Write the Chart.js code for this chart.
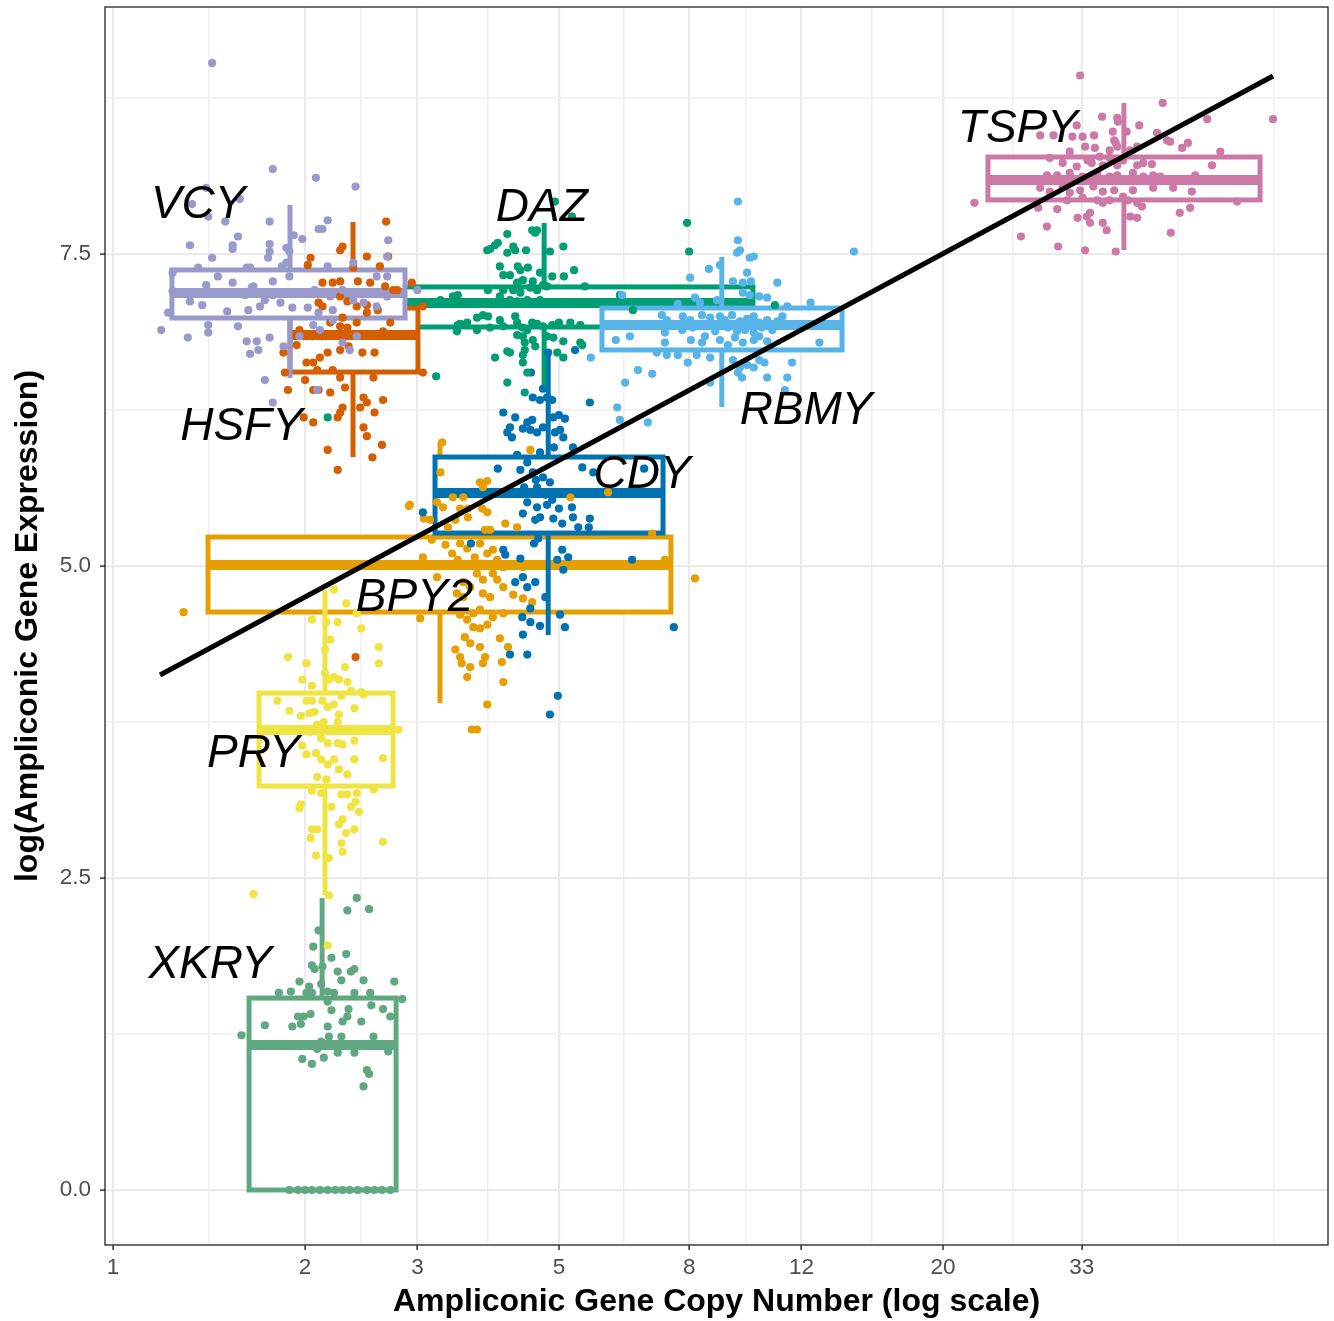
<!DOCTYPE html>
<html><head><meta charset="utf-8">
<script src="https://cdn.jsdelivr.net/npm/chart.js@4/dist/chart.umd.min.js"></script>
<style>html,body{margin:0;padding:0;background:#fff}canvas{display:block}</style>
</head><body>
<canvas id="c" width="1334" height="1321"></canvas>
<script>
// ---------- data ----------
const genes = ['BPY2','CDY','DAZ','HSFY','PRY','RBMY','TSPY','VCY','XKRY'];
const geneColors = ['#E69F00','#0072B2','#009E73','#D55E00','#F0E442','#56B4E9','#CC79A7','#9999CC','#60A882'];

// box statistics (copy number on x, log expression on y)
const boxCopyLow      = [1.409, 3.197, 2.228, 1.894, 1.694, 5.84, 23.52, 1.237, 1.634];
const boxCopyHigh     = [7.49, 7.28, 10.07, 3.006, 2.748, 13.89, 62.8, 2.869, 2.778];
const medianCopy      = [3.255, 4.81, 4.74, 2.378, 2.149, 9.0, 38.42, 1.894, 2.127];
const exprQ1          = [4.631, 5.264, 6.915, 6.554, 3.237, 6.731, 7.933, 6.987, 0];
const exprMedian      = [5.008, 5.585, 7.107, 6.851, 3.686, 6.931, 8.093, 7.188, 1.162];
const exprQ3          = [5.232, 5.873, 7.236, 7.067, 3.982, 7.067, 8.277, 7.372, 1.538];
const exprWhiskerLow  = [3.902, 4.447, 6.394, 5.873, 2.364, 6.274, 7.532, 6.506, 0];
const exprWhiskerHigh = [5.994, 6.715, 7.748, 7.756, 4.808, 7.476, 8.71, 7.893, 2.34];

// gene label anchor points
const labelCopy = [2.97, 6.75, 4.70, 1.59, 1.66, 12.2, 26.2, 1.36, 1.42];
const labelExpr = [4.74, 5.73, 7.87, 6.11, 3.49, 6.24, 8.50, 7.89, 1.80];

// regression line
const fitCopy = [1.185, 65.8];
const fitExpr = [4.127, 8.926];

// ticks
const xTickValues = [1, 2, 3, 5, 8, 12, 20, 33];
const yTickValues = [0, 2.5, 5, 7.5];

// jittered samples [copy number, log expression]
const pointsBPY2 = [[3.28,5.99],[4.51,5.93],[3.26,5.75],[3.76,5.67],[3.86,5.68],[3.80,5.63],[2.92,5.49],[3.22,5.51],[3.29,5.47],[3.41,5.55],[3.54,5.55],[3.50,5.46],[3.60,5.46],[3.79,5.46],[3.86,5.43],[3.14,5.37],[3.35,5.31],[3.60,5.39],[3.83,5.29],[4.12,5.34],[4.30,5.31],[5.21,5.55],[5.97,5.59],[3.16,5.21],[3.50,5.18],[3.59,5.14],[3.76,5.18],[3.86,5.10],[3.94,5.13],[3.40,5.10],[3.47,5.05],[3.69,5.07],[3.76,5.02],[4.00,5.05],[4.09,4.99],[3.06,5.07],[4.27,5.01],[4.39,4.99],[3.22,4.91],[3.72,4.94],[3.80,4.89],[3.94,4.94],[4.00,4.89],[4.09,4.83],[3.54,4.87],[3.63,4.83],[3.46,4.78],[3.54,4.75],[3.80,4.78],[3.90,4.75],[4.24,4.77],[4.39,4.74],[4.54,4.71],[3.03,4.58],[3.50,4.61],[3.59,4.57],[3.67,4.62],[3.76,4.65],[3.94,4.59],[4.09,4.62],[3.67,4.51],[3.76,4.50],[3.86,4.53],[3.56,4.43],[3.63,4.38],[3.44,4.33],[3.50,4.27],[3.76,4.35],[3.83,4.27],[4.04,4.42],[4.16,4.35],[3.52,4.22],[3.63,4.19],[3.80,4.22],[4.07,4.23],[3.59,4.11],[4.09,4.07],[3.86,3.89],[8.17,4.90],[7.00,5.26],[7.33,5.05],[1.29,4.63],[3.65,3.69],[3.72,3.69],[2.91,5.48],[3.07,5.38],[3.32,5.17],[3.90,5.29],[3.44,5.37]];
const pointsCDY = [[5.30,6.73],[4.52,6.55],[5.59,6.31],[4.72,6.42],[4.55,6.35],[4.67,6.33],[4.79,6.35],[4.88,6.33],[4.09,6.23],[4.27,6.19],[4.46,6.15],[4.54,6.17],[4.62,6.07],[4.72,6.11],[4.90,6.19],[5.00,6.21],[5.11,6.18],[4.19,6.11],[4.39,6.10],[4.93,6.07],[4.51,6.09],[5.02,6.09],[5.08,6.03],[4.15,6.07],[4.22,6.03],[4.30,5.89],[4.67,5.91],[4.91,5.95],[5.26,5.95],[4.01,5.78],[4.35,5.77],[4.46,5.83],[4.55,5.75],[4.60,5.69],[4.72,5.71],[4.84,5.67],[4.41,5.63],[4.51,5.59],[4.62,5.63],[4.76,5.57],[4.46,5.51],[4.62,5.47],[4.79,5.49],[4.88,5.53],[5.00,5.46],[5.24,5.47],[4.39,5.42],[4.59,5.37],[4.67,5.39],[4.90,5.38],[5.06,5.34],[5.26,5.39],[5.36,5.31],[5.59,5.38],[5.57,5.31],[5.44,5.79],[5.66,5.75],[6.80,5.78],[3.06,5.43],[3.64,5.18],[4.09,5.13],[4.12,5.09],[4.57,5.18],[4.64,5.22],[5.06,5.13],[5.17,5.07],[4.35,5.06],[4.97,5.05],[5.08,4.97],[4.27,4.87],[4.39,4.91],[4.59,4.87],[4.46,4.83],[4.76,4.75],[5.02,4.61],[4.38,4.59],[4.51,4.55],[4.67,4.52],[5.11,4.51],[4.39,4.45],[4.19,4.29],[4.46,4.29],[4.98,3.96],[4.84,3.81],[6.51,5.05],[7.57,4.51],[4.51,4.66],[4.81,6.71]];
const pointsDAZ = [[4.93,7.92],[5.24,7.80],[4.54,7.69],[4.59,7.67],[4.62,7.69],[4.15,7.66],[4.01,7.59],[3.90,7.54],[4.24,7.56],[4.27,7.53],[4.15,7.51],[4.44,7.53],[5.08,7.56],[4.84,7.52],[4.04,7.40],[4.31,7.40],[4.35,7.37],[4.47,7.39],[4.19,7.33],[4.09,7.33],[4.67,7.35],[4.88,7.32],[5.28,7.37],[5.09,7.32],[4.30,7.27],[4.39,7.29],[4.55,7.28],[4.09,7.21],[4.24,7.21],[4.35,7.19],[4.51,7.23],[4.62,7.21],[4.72,7.25],[4.79,7.24],[5.49,7.24],[3.41,7.16],[3.47,7.17],[3.87,7.21],[4.04,7.16],[4.19,7.13],[4.30,7.12],[4.46,7.13],[4.55,7.11],[4.67,7.13],[6.23,7.17],[6.53,7.05],[3.50,6.94],[3.46,6.88],[3.72,6.99],[3.87,7.00],[3.72,6.89],[3.90,6.91],[4.04,6.97],[4.09,6.92],[4.27,7.00],[4.30,6.95],[4.38,6.91],[4.46,6.89],[4.54,6.95],[4.62,6.94],[4.72,6.92],[4.88,6.93],[5.00,6.95],[5.21,6.95],[5.40,6.93],[4.30,6.85],[4.39,6.84],[4.55,6.81],[4.79,6.84],[4.90,6.83],[5.08,6.80],[5.44,6.77],[4.42,6.79],[4.42,6.73],[4.39,6.69],[4.59,6.76],[4.15,6.72],[4.19,6.71],[3.97,6.67],[4.97,6.71],[5.08,6.67],[4.39,6.63],[4.46,6.55],[4.15,6.47],[4.42,6.39],[3.21,6.52],[7.94,7.75],[8.00,7.52],[10.9,7.09],[2.17,6.19],[3.80,7.01],[3.47,6.93],[3.59,6.95],[5.40,6.79],[3.86,7.53],[3.97,7.57],[3.14,7.11],[3.26,7.13]];
const pointsHSFY = [[2.68,7.76],[2.70,7.48],[2.50,7.48],[2.29,7.56],[2.27,7.53],[2.04,7.47],[2.02,7.41],[2.62,7.40],[2.75,7.21],[2.38,7.39],[2.21,7.27],[2.27,7.28],[2.13,7.27],[2.42,7.28],[2.53,7.27],[2.67,7.24],[2.79,7.21],[2.94,7.27],[2.10,7.11],[2.13,7.08],[2.27,7.16],[2.33,7.12],[2.41,7.08],[2.50,7.09],[2.60,7.05],[2.50,7.03],[2.72,6.95],[2.29,6.99],[2.19,6.95],[2.27,6.92],[2.33,6.91],[1.96,6.89],[2.05,6.84],[2.13,6.84],[2.41,6.95],[2.65,6.88],[1.85,6.71],[1.94,6.77],[2.01,6.63],[2.06,6.63],[2.11,6.67],[2.17,6.71],[2.27,6.73],[2.34,6.76],[2.46,6.71],[2.57,6.71],[3.06,6.55],[1.86,6.55],[2.09,6.57],[2.21,6.57],[2.27,6.51],[1.88,6.41],[2.00,6.49],[2.06,6.41],[2.10,6.41],[2.19,6.39],[2.31,6.43],[2.47,6.35],[2.56,6.51],[2.50,6.31],[2.44,6.27],[2.65,6.33],[2.57,6.23],[1.99,6.19],[2.06,6.15],[2.27,6.23],[2.25,6.19],[2.29,6.27],[2.47,6.11],[2.50,6.04],[2.17,5.93],[2.25,5.77],[2.55,5.87],[2.64,5.97],[3.06,7.08],[2.40,4.27]];
const pointsPRY = [[2.22,4.81],[2.32,4.70],[2.05,4.57],[2.16,4.55],[2.41,4.62],[2.45,4.50],[2.25,4.55],[2.19,4.41],[2.61,4.35],[1.88,4.27],[2.01,4.22],[2.31,4.19],[2.61,4.22],[2.15,4.33],[2.15,4.14],[2.18,4.09],[1.98,4.09],[2.26,4.09],[2.45,3.99],[2.47,3.97],[2.80,3.69],[2.05,4.04],[2.22,4.11],[2.33,4.07],[1.81,3.92],[1.89,3.84],[2.01,3.92],[2.05,3.92],[1.97,3.80],[2.03,3.82],[2.07,3.83],[2.13,3.92],[2.17,3.87],[2.22,3.89],[2.28,3.96],[2.36,4.00],[2.39,3.86],[2.26,3.81],[2.25,3.75],[2.09,3.73],[2.14,3.75],[2.20,3.69],[2.01,3.69],[2.04,3.67],[2.12,3.62],[2.17,3.58],[2.25,3.58],[2.29,3.57],[2.39,3.60],[1.98,3.56],[2.01,3.49],[2.08,3.50],[2.12,3.45],[2.17,3.41],[2.22,3.45],[2.39,3.45],[2.65,3.46],[2.26,3.37],[2.33,3.33],[2.09,3.31],[2.16,3.29],[2.05,3.20],[2.12,3.18],[2.28,3.17],[2.33,3.17],[2.41,3.18],[2.56,3.21],[1.97,3.09],[1.96,3.06],[2.20,3.07],[2.36,3.07],[2.40,3.11],[2.43,3.03],[2.29,2.97],[2.26,2.93],[2.05,2.89],[2.09,2.89],[2.04,2.82],[2.32,2.86],[2.39,2.89],[2.28,2.78],[2.29,2.71],[2.65,2.79],[2.08,2.68],[2.18,2.66],[2.18,2.36],[1.66,2.37],[2.17,1.96]];
const pointsRBMY = [[9.54,7.92],[9.54,7.61],[9.61,7.53],[9.51,7.51],[9.96,7.47],[10.1,7.48],[8.94,7.41],[8.59,7.38],[9.86,7.35],[8.03,7.31],[9.37,7.28],[9.71,7.27],[10.0,7.28],[11.0,7.27],[14.5,7.52],[6.28,7.17],[8.17,7.15],[8.32,7.11],[7.68,7.10],[8.85,7.13],[9.71,7.19],[9.96,7.17],[10.3,7.16],[10.6,7.15],[11.4,7.08],[12.4,7.11],[7.25,7.01],[7.38,6.97],[7.82,7.00],[8.03,6.97],[8.38,7.01],[8.63,6.99],[8.94,7.00],[9.10,6.97],[9.34,7.01],[9.61,6.96],[9.86,6.98],[10.1,7.00],[10.3,6.95],[10.6,6.97],[11.0,6.96],[11.2,7.00],[7.80,6.89],[8.10,6.91],[8.53,6.92],[8.79,6.88],[9.20,6.91],[9.51,6.88],[9.79,6.89],[10.1,6.87],[10.4,6.91],[10.8,6.89],[6.14,6.81],[6.46,6.84],[7.33,6.87],[7.33,6.79],[8.05,6.81],[8.38,6.79],[8.47,6.84],[8.94,6.81],[9.20,6.77],[9.44,6.83],[9.71,6.79],[10.1,6.81],[10.3,6.84],[10.6,6.80],[12.8,6.79],[5.61,6.67],[7.12,6.71],[7.38,6.69],[7.68,6.69],[7.96,6.63],[8.22,6.69],[8.63,6.67],[9.37,6.65],[9.61,6.59],[9.86,6.61],[10.1,6.59],[10.3,6.65],[10.5,6.63],[11.6,6.63],[6.65,6.57],[7.00,6.54],[9.54,6.55],[9.68,6.51],[10.6,6.51],[11.4,6.51],[6.35,6.47],[8.63,6.47],[11.3,6.41],[6.17,6.27],[6.23,6.17],[6.89,6.15]];
const pointsTSPY = [[32.8,8.93],[44.2,8.71],[65.8,8.58],[51.9,8.58],[35.5,8.60],[37.5,8.59],[37.6,8.56],[40.6,8.53],[32.4,8.53],[28.4,8.45],[29.8,8.45],[31.9,8.44],[33.1,8.44],[34.5,8.45],[36.9,8.48],[37.1,8.41],[37.3,8.39],[38.8,8.48],[43.3,8.47],[44.9,8.41],[45.4,8.40],[48.4,8.39],[47.4,8.35],[54.4,8.32],[31.6,8.32],[33.4,8.36],[34.6,8.35],[36.5,8.33],[37.5,8.36],[39.3,8.33],[40.3,8.36],[29.4,8.27],[30.8,8.23],[32.4,8.20],[33.7,8.25],[34.2,8.23],[35.2,8.28],[35.6,8.21],[36.5,8.27],[37.5,8.21],[38.3,8.25],[40.3,8.21],[41.2,8.23],[42.5,8.22],[52.8,8.21],[29.1,8.13],[30.2,8.13],[31.6,8.15],[33.1,8.12],[34.9,8.15],[36.5,8.12],[37.5,8.13],[39.7,8.15],[41.2,8.12],[42.7,8.13],[43.8,8.12],[49.7,8.13],[28.4,8.03],[29.4,8.00],[30.8,8.04],[31.6,7.99],[32.8,8.01],[34.4,8.04],[35.6,8.00],[37.1,8.01],[38.3,7.96],[39.7,8.01],[42.7,8.03],[45.9,8.03],[49.1,8.00],[57.8,7.92],[22.4,7.91],[28.2,7.87],[30.2,7.86],[31.3,7.93],[33.1,7.95],[34.9,7.93],[35.6,7.91],[36.5,7.93],[39.0,7.93],[40.3,7.91],[41.0,7.88],[48.8,7.87],[47.0,7.83],[32.5,7.79],[33.6,7.80],[34.0,7.83],[35.6,7.75],[36.1,7.69],[34.0,7.75],[39.3,7.80],[40.3,7.79],[29.1,7.72],[26.5,7.64],[30.3,7.56],[33.4,7.53],[37.3,7.52],[45.5,7.67]];
const pointsVCY = [[1.43,9.03],[1.78,8.18],[2.08,8.11],[2.40,8.04],[1.40,8.03],[1.33,7.90],[1.58,7.94],[1.41,7.80],[1.50,7.76],[1.76,7.76],[2.17,7.77],[2.10,7.70],[2.13,7.70],[1.57,7.64],[1.32,7.57],[1.54,7.57],[1.54,7.54],[1.76,7.58],[1.92,7.65],[1.98,7.62],[1.87,7.55],[1.75,7.47],[1.43,7.47],[2.70,7.61],[2.69,7.48],[1.36,7.39],[1.46,7.32],[1.78,7.28],[1.64,7.39],[1.54,7.27],[1.66,7.24],[1.76,7.52],[1.87,7.43],[1.89,7.52],[1.24,7.35],[1.62,7.39],[1.84,7.40],[1.89,7.32],[2.17,7.40],[2.38,7.43],[2.59,7.32],[2.69,7.32],[1.22,7.03],[1.32,7.12],[1.38,7.09],[1.51,7.04],[1.63,7.05],[1.70,7.08],[1.83,7.11],[1.91,7.07],[2.02,7.07],[2.10,7.03],[2.21,7.05],[2.38,7.13],[1.24,7.20],[1.40,7.25],[1.65,7.23],[1.78,7.17],[1.96,7.19],[2.29,7.21],[2.47,7.11],[2.59,7.08],[2.69,7.16],[3.00,7.21],[1.19,6.89],[1.31,6.83],[1.41,6.93],[1.41,6.87],[1.57,6.92],[1.68,6.80],[1.76,6.83],[1.85,6.76],[1.64,6.70],[1.73,6.49],[1.78,6.31],[1.96,6.84],[2.06,6.93],[2.09,6.41],[2.21,6.97],[2.29,6.79],[2.35,6.73],[2.41,6.84],[2.11,6.89],[1.69,6.73],[1.62,6.80],[1.53,7.19],[1.61,7.17],[1.73,7.13],[2.07,7.21],[2.19,7.16]];
const pointsXKRY = [[2.41,2.34],[2.33,2.24],[2.52,2.25],[2.10,2.08],[2.06,1.95],[2.20,1.86],[2.32,1.89],[2.05,1.80],[2.07,1.77],[2.13,1.79],[2.25,1.75],[2.28,1.68],[2.36,1.75],[2.39,1.77],[1.96,1.67],[2.03,1.63],[2.12,1.65],[2.47,1.68],[2.76,1.67],[1.82,1.58],[1.90,1.59],[2.01,1.58],[2.05,1.58],[2.17,1.59],[2.22,1.58],[2.39,1.58],[2.53,1.58],[2.84,1.53],[2.17,1.51],[2.20,1.44],[2.34,1.45],[2.54,1.48],[2.65,1.45],[1.95,1.39],[1.99,1.39],[2.04,1.41],[1.73,1.32],[1.91,1.31],[1.97,1.33],[2.17,1.31],[2.29,1.35],[2.33,1.39],[2.45,1.35],[2.72,1.39],[1.59,1.24],[2.18,1.23],[2.28,1.23],[2.56,1.23],[2.14,1.06],[2.25,1.10],[2.39,1.10],[1.98,1.05],[2.05,1.01],[2.50,0.96],[2.52,0.93],[2.47,0.83],[2.70,1.11],[2.09,1.13],[2.12,1.19],[1.89,0],[1.95,0],[2.00,0],[2.05,0],[2.11,0],[2.17,0],[2.23,0],[2.29,0],[2.35,0],[2.42,0],[2.50,0],[2.57,0],[2.64,0],[2.72,0]];
const genePoints = [pointsBPY2, pointsCDY, pointsDAZ, pointsHSFY, pointsPRY, pointsRBMY, pointsTSPY, pointsVCY, pointsXKRY];

// ---------- chart ----------
const FONT = "'Liberation Sans', Arial, Helvetica, sans-serif";
Chart.defaults.font.family = FONT;

// minor grid positions: geometric midpoints between breaks (plus one break-step beyond the last)
const xBreaksExt = xTickValues.concat([xTickValues[xTickValues.length-1] * xTickValues[1] / xTickValues[0]]);
const xGridValues = [];
for (let i = 0; i < xBreaksExt.length; i++) {
  xGridValues.push(xBreaksExt[i]);
  if (i < xBreaksExt.length - 1) xGridValues.push(Math.sqrt(xBreaksExt[i] * xBreaksExt[i+1]));
}
const yGridValues = [];
for (let i = 0; i < yTickValues.length; i++) {
  yGridValues.push(yTickValues[i]);
  yGridValues.push(yTickValues[i] + (yTickValues[1] - yTickValues[0]) / 2);
}
const isXMajor = v => xTickValues.includes(v);
const isYMajor = v => yTickValues.includes(v);

const boxPlugin = {
  id: 'boxes2d',
  beforeDatasetsDraw(chart) {
    const {ctx, chartArea: a, scales: {x, y}} = chart;
    ctx.save();
    ctx.beginPath(); ctx.rect(a.left, a.top, a.right - a.left, a.bottom - a.top); ctx.clip();
    genes.forEach((g, i) => {
      const col = geneColors[i];
      const xl = x.getPixelForValue(boxCopyLow[i]);
      const xr = x.getPixelForValue(boxCopyHigh[i]);
      const xm = x.getPixelForValue(medianCopy[i]);
      const y1 = y.getPixelForValue(exprQ1[i]);
      const y3 = y.getPixelForValue(exprQ3[i]);
      const ym = y.getPixelForValue(exprMedian[i]);
      const ylo = y.getPixelForValue(exprWhiskerLow[i]);
      const yhi = y.getPixelForValue(exprWhiskerHigh[i]);
      ctx.strokeStyle = col;
      ctx.lineCap = 'butt';
      ctx.lineWidth = 5;
      ctx.beginPath();
      ctx.moveTo(xm, y3); ctx.lineTo(xm, yhi);
      ctx.moveTo(xm, y1); ctx.lineTo(xm, ylo);
      ctx.stroke();
      ctx.fillStyle = '#ffffff';
      ctx.fillRect(xl, y3, xr - xl, y1 - y3);
      ctx.lineJoin = 'miter';
      ctx.strokeRect(xl, y3, xr - xl, y1 - y3);
      ctx.lineWidth = 10;
      ctx.beginPath(); ctx.moveTo(xl, ym); ctx.lineTo(xr, ym); ctx.stroke();
    });
    ctx.restore();
  },
  afterDatasetsDraw(chart) {
    const {ctx, scales: {x, y}} = chart;
    ctx.save();
    ctx.fillStyle = '#000';
    ctx.font = 'italic 46px ' + FONT;
    ctx.textAlign = 'center';
    ctx.textBaseline = 'middle';
    genes.forEach((g, i) => {
      ctx.fillText(g, x.getPixelForValue(labelCopy[i]), y.getPixelForValue(labelExpr[i]));
    });
    ctx.restore();
  },
  afterDraw(chart) {
    const {ctx, chartArea: a} = chart;
    ctx.save();
    ctx.strokeStyle = '#333333';
    ctx.lineWidth = 1.4;
    ctx.strokeRect(a.left, a.top, a.right - a.left, a.bottom - a.top);
    ctx.restore();
  }
};

const datasets = genes.map((g, i) => ({
  label: g,
  data: genePoints[i].map(p => ({x: p[0], y: p[1]})),
  backgroundColor: geneColors[i],
  borderColor: geneColors[i],
  pointBackgroundColor: geneColors[i],
  pointBorderColor: geneColors[i],
  pointBorderWidth: 0,
  pointRadius: 4.1,
  showLine: false,
  order: 20 - i
}));
datasets.push({
  type: 'line',
  label: 'fit',
  data: fitCopy.map((v, i) => ({x: v, y: fitExpr[i]})),
  borderColor: '#000',
  borderWidth: 5,
  pointRadius: 0,
  fill: false,
  order: 0
});

new Chart(document.getElementById('c'), {
  type: 'scatter',
  data: {datasets},
  options: {
    responsive: false,
    animation: false,
    devicePixelRatio: 1,
    events: [],
    layout: {padding: {top: 7, right: 6, left: 0, bottom: 0}},
    plugins: {legend: {display: false}, tooltip: {enabled: false}},
    scales: {
      x: {
        type: 'logarithmic',
        min: 0.9715, max: 80.25,
        afterBuildTicks: s => { s.ticks = xGridValues.map(v => ({value: v})); },
        afterFit: s => { s.height = 76; s.paddingLeft = 0; s.paddingRight = 0; },
        ticks: {
          autoSkip: false, maxRotation: 0, minRotation: 0,
          color: '#4D4D4D', font: {size: 22.5}, padding: 4,
          callback: v => isXMajor(v) ? String(v) : ''
        },
        grid: {
          color: c => (c.tick && isXMajor(c.tick.value)) ? '#EBEBEB' : '#F0F0F0',
          lineWidth: c => (c.tick && isXMajor(c.tick.value)) ? 2.2 : 1.6,
          tickColor: c => (c.tick && isXMajor(c.tick.value)) ? '#333333' : 'rgba(0,0,0,0)',
          tickWidth: 1.5, tickLength: 5, drawTicks: true
        },
        border: {display: false},
        title: {display: true, text: 'Ampliconic Gene Copy Number (log scale)', color: '#000',
                font: {size: 32, weight: 'bold'}, padding: {top: 0, bottom: 0}}
      },
      y: {
        type: 'linear',
        min: -0.4407, max: 9.479,
        afterBuildTicks: s => { s.ticks = yGridValues.map(v => ({value: v})); },
        afterFit: s => { s.width = 105; s.paddingTop = 0; s.paddingBottom = 0; },
        ticks: {
          autoSkip: false, color: '#4D4D4D', font: {size: 22.5}, padding: 9,
          callback: v => isYMajor(v) ? v.toFixed(1) : ''
        },
        grid: {
          color: c => (c.tick && isYMajor(c.tick.value)) ? '#EBEBEB' : '#F0F0F0',
          lineWidth: c => (c.tick && isYMajor(c.tick.value)) ? 2.2 : 1.6,
          tickColor: c => (c.tick && isYMajor(c.tick.value)) ? '#333333' : 'rgba(0,0,0,0)',
          tickWidth: 1.5, tickLength: 5, drawTicks: true
        },
        border: {display: false},
        title: {display: true, text: 'log(Ampliconic Gene Expression)', color: '#000',
                font: {size: 32, weight: 'bold'}, padding: {top: 9, bottom: 0}}
      }
    }
  },
  plugins: [boxPlugin]
});
</script>
</body></html>
